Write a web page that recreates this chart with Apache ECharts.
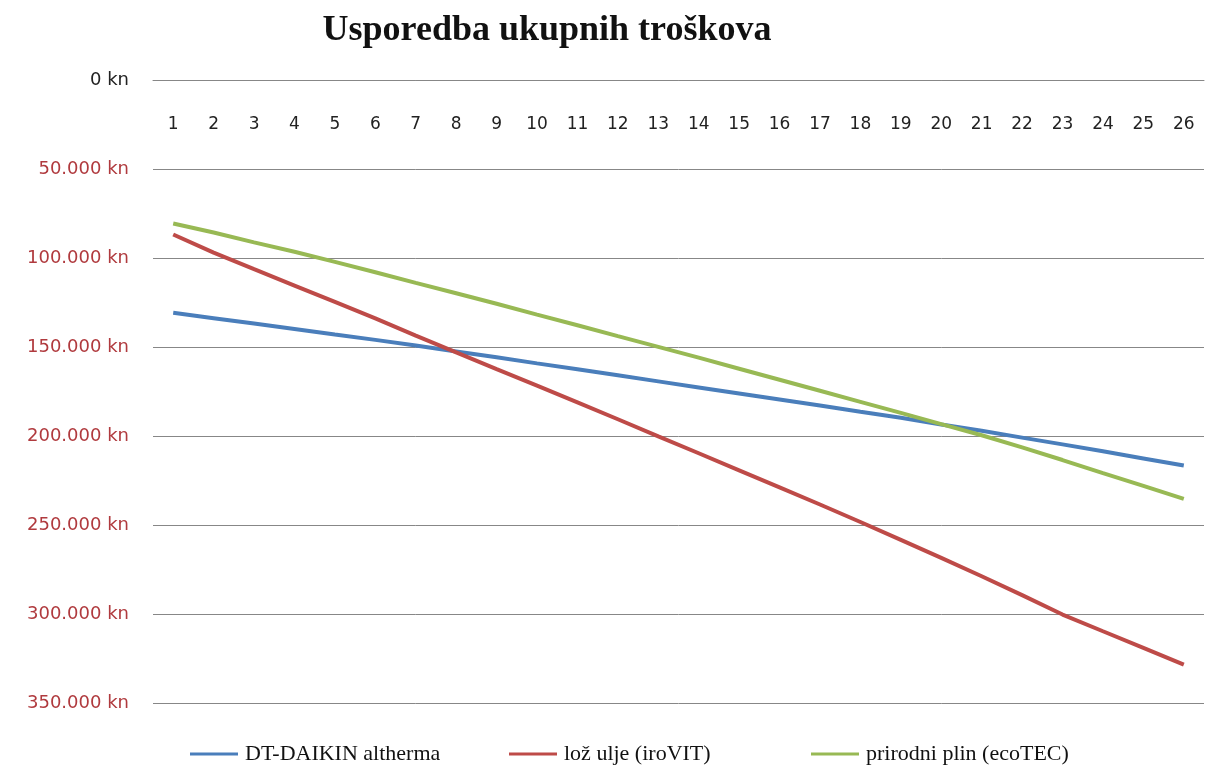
<!DOCTYPE html>
<html>
<head>
<meta charset="utf-8">
<script src="https://cdn.jsdelivr.net/npm/echarts@6/dist/echarts.min.js"></script>
<style>html,body{margin:0;padding:0;background:#fff;}#c{width:1208px;height:768px;}</style>
</head>
<body>
<div id="c"></div>
<script>
const categories = ['1','2','3','4','5','6','7','8','9','10','11','12','13','14','15','16','17','18','19','20','21','22','23','24','25','26'];
const daikin = [130800,133800,136800,139900,143000,146000,149200,152500,155800,159200,162500,165900,169300,172700,176100,179500,182900,186400,189800,193500,197100,200900,204700,208600,212600,216600];
const lozUlje = [86800,97000,106300,115500,124700,133900,143600,153000,162400,171700,181100,190600,200200,209700,219300,228900,238500,248300,258400,268500,278800,289400,300300,309700,319000,328400];
const plin = [80600,85700,91200,96500,102200,108000,114000,119800,125700,131800,137800,143900,149900,156000,162200,168400,174600,180800,187000,193300,199600,206400,213500,220900,228000,235300];
const seriesNames = ['DT-DAIKIN altherma','lož ulje (iroVIT)','prirodni plin (ecoTEC)'];
const colors = ['#4a7ebb','#be4b48','#98b954'];

function fmt(v){
  const s = String(Math.round(v)).replace(/\B(?=(\d{3})+(?!\d))/g,'.');
  return s + ' kn';
}

const chart = echarts.init(document.getElementById('c'));
const legendBase = {
  bottom: -2, icon: 'rect', itemWidth: 48, itemHeight: 3, itemGap: 0,
  textStyle: {fontFamily: 'Liberation Serif', fontSize: 22, color: '#111', padding: [0,0,0,2]}
};
chart.setOption({
  animation: false,
  backgroundColor: '#fff',
  title: {
    text: 'Usporedba ukupnih troškova', left: 542, top: 8, textAlign: 'center',
    textStyle: {fontFamily: 'Liberation Serif', fontWeight: 'bold', fontSize: 36, color: '#111'}
  },
  legend: [
    Object.assign({}, legendBase, {left: 185, data: [seriesNames[0]]}),
    Object.assign({}, legendBase, {left: 504, data: [seriesNames[1]]}),
    Object.assign({}, legendBase, {left: 806, data: [seriesNames[2]]})
  ],
  grid: {left: 153, right: 4, top: 80, bottom: 65},
  xAxis: {
    type: 'category', data: categories, position: 'top', boundaryGap: true,
    axisLine: {show: true, lineStyle: {color: '#878787', width: 1}},
    axisTick: {show: false},
    axisLabel: {inside: true, margin: 36, fontFamily: 'DejaVu Sans', fontSize: 17, color: '#222', interval: 0}
  },
  yAxis: {
    type: 'value', inverse: true, min: 0, max: 350000, interval: 50000,
    axisLine: {show: false}, axisTick: {show: false},
    splitLine: {lineStyle: {color: '#878787', width: 1}},
    axisLabel: {
      margin: 24, fontFamily: 'DejaVu Sans', fontSize: 18,
      formatter: fmt,
      color: function(v){ return Number(v) === 0 ? '#222' : '#b03a3e'; }
    }
  },
  series: [
    {name: seriesNames[0], type: 'line', data: daikin, symbol: 'none', lineStyle: {width: 4, color: colors[0]}, itemStyle: {color: colors[0]}},
    {name: seriesNames[1], type: 'line', data: lozUlje, symbol: 'none', lineStyle: {width: 4, color: colors[1]}, itemStyle: {color: colors[1]}},
    {name: seriesNames[2], type: 'line', data: plin, symbol: 'none', lineStyle: {width: 4, color: colors[2]}, itemStyle: {color: colors[2]}}
  ]
});
</script>
</body>
</html>
